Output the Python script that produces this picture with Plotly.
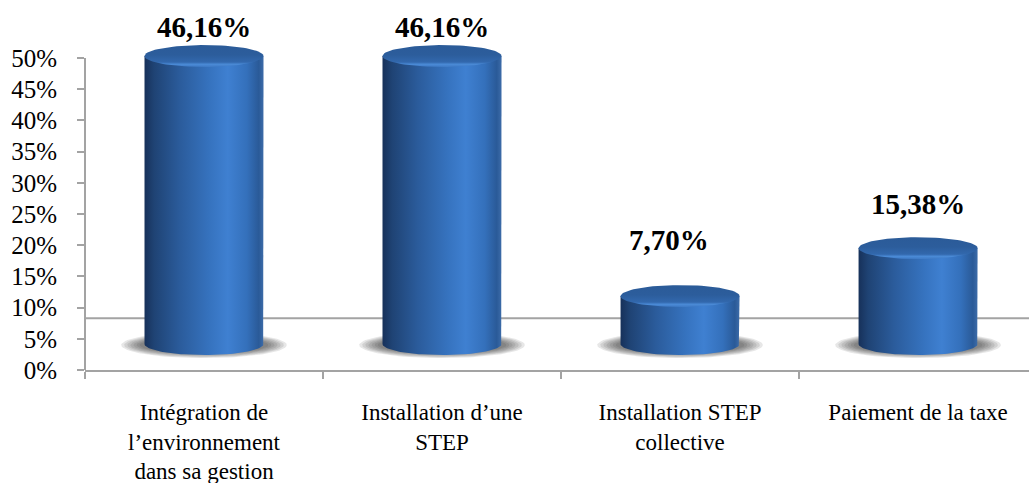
import numpy as np
import plotly.graph_objects as go

# ---- data -------------------------------------------------------------
categories = [
    "Intégration de<br>l’environnement<br>dans sa gestion",
    "Installation d’une<br>STEP",
    "Installation STEP<br>collective",
    "Paiement de la taxe",
]
values = [46.16, 46.16, 7.70, 15.38]          # percent
value_labels = ["46,16%", "46,16%", "7,70%", "15,38%"]
y_ticks = [0, 5, 10, 15, 20, 25, 30, 35, 40, 45, 50]
y_tick_labels = [f"{t}%" for t in y_ticks]

# ---- styling / 3-D look constants ------------------------------------
FONT = "Liberation Serif"
AXIS_GREY = "#a3a3a3"
LIFT = 4.15          # perspective lift of the cylinders above the axis origin
FLOOR_BACK = 8.3     # back edge of the floor
HALF_W = 0.25        # half width of a cylinder (category units)
CAP_RY = 1.75        # vertical semi-axis of the elliptic caps (axis units)
label_shift = [(0, 29), (0, 29), (-11, 56), (0, 44)]   # (dx, dy) px of value labels

body_scale = [
    [0.00, "#17315a"], [0.08, "#1f4374"], [0.30, "#2b5c9c"],
    [0.55, "#3673bf"], [0.70, "#3f80d1"], [0.86, "#3470bb"],
    [0.96, "#2a5a98"], [1.00, "#3d6ca9"],
]
cap_scale = [
    [0.00, "#3f7bc6"], [0.12, "#4a8ad6"], [0.22, "#3268ad"],
    [0.55, "#2c5d9c"], [1.00, "#2b5b98"],
]

fig = go.Figure()


def ellipse(cx, cy, rx, ry, t0=0.0, t1=2 * np.pi, n=90):
    t = np.linspace(t0, t1, n)
    return cx + rx * np.cos(t), cy + ry * np.sin(t)


for i, v in enumerate(values):
    base = LIFT
    top = LIFT + v

    # soft floor shadow: stacked translucent ellipses
    for k in range(7):
        sx, sy = ellipse(i, base - 0.15, HALF_W + 0.02 + 0.013 * k, CAP_RY * 0.75 + 0.13 * k)
        fig.add_trace(go.Scatter(
            x=sx, y=sy, mode="lines", fill="toself", line=dict(width=0),
            fillcolor="rgba(40,40,40,0.11)", hoverinfo="skip", showlegend=False))

    # cylinder body: side rectangle closed by the lower half of the base ellipse
    bx, by = ellipse(i, base, HALF_W, CAP_RY, 0.0, -np.pi, 60)
    xs = np.concatenate([[i - HALF_W, i - HALF_W, i + HALF_W], bx])
    ys = np.concatenate([[base, top, top], by])
    fig.add_trace(go.Scatter(
        x=xs, y=ys, mode="lines", fill="toself", line=dict(width=0),
        fillgradient=dict(type="horizontal", colorscale=body_scale),
        hoverinfo="skip", showlegend=False))

    # top cap
    tx, ty = ellipse(i, top, HALF_W, CAP_RY)
    fig.add_trace(go.Scatter(
        x=tx, y=ty, mode="lines", fill="toself", line=dict(width=0),
        fillgradient=dict(type="vertical", colorscale=cap_scale),
        hoverinfo="skip", showlegend=False))

    # value label
    dx, dy = label_shift[i]
    fig.add_annotation(
        x=i, y=top, text=f"<b>{value_labels[i]}</b>", showarrow=False,
        xshift=dx, yshift=dy, font=dict(family=FONT, size=29, color="black"))

# floor back edge and value axis line
fig.add_shape(type="line", xref="paper", yref="y", x0=0, x1=1, y0=FLOOR_BACK, y1=FLOOR_BACK,
              line=dict(color=AXIS_GREY, width=2), layer="below")
fig.add_shape(type="line", xref="paper", yref="y", x0=0, x1=0, y0=0, y1=max(y_ticks),
              line=dict(color=AXIS_GREY, width=2), layer="below")

fig.update_layout(
    width=1029, height=483,
    margin=dict(l=85, r=0, t=33, b=113),
    plot_bgcolor="white", paper_bgcolor="white",
    showlegend=False,
    font=dict(family=FONT, size=23, color="black"),
    xaxis=dict(
        range=[-0.5, 3.466], showgrid=False, zeroline=False, automargin=False,
        showline=True, linecolor=AXIS_GREY, linewidth=2,
        tickvals=list(range(len(categories))), ticktext=categories,
        ticks="", ticklabelstandoff=20,
        tickfont=dict(family=FONT, size=23, color="black"),
        minor=dict(tick0=-0.5, dtick=1, ticks="outside", ticklen=7,
                   tickcolor=AXIS_GREY, tickwidth=2, showgrid=False),
    ),
    yaxis=dict(
        range=[0, 54], showgrid=False, zeroline=False, showline=False, automargin=False,
        tickvals=y_ticks, ticktext=y_tick_labels,
        ticks="outside", ticklen=7, tickcolor=AXIS_GREY, tickwidth=2,
        ticklabelstandoff=15,
        tickfont=dict(family=FONT, size=25, color="black"),
    ),
)

fig.write_html("out.html")
